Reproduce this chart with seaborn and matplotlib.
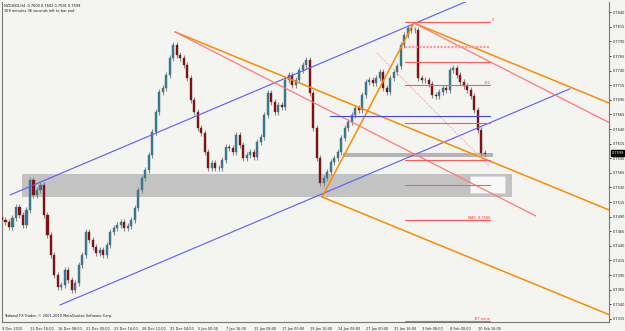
import numpy as np
import pandas as pd
import matplotlib
matplotlib.use("Agg")
import matplotlib.pyplot as plt
import seaborn as sns
from matplotlib.patches import Rectangle

sns.set_theme(style="white")
plt.rcParams["font.family"] = ["DejaVu Sans"]

# ---------------- data ----------------
# candle closes (one candle = 2 H4 bars), NZDUSD
closes = [
    0.74844, 0.74809, 0.74723, 0.74878, 0.75066, 0.74929, 0.74758, 0.75015, 0.75529, 0.75272,
    0.75357, 0.75443, 0.74929, 0.74587, 0.74244, 0.73902, 0.73697, 0.73731, 0.73988, 0.73817,
    0.73645, 0.73765, 0.74073, 0.74244, 0.74638, 0.74501, 0.74381, 0.74278, 0.74330, 0.74244,
    0.74416, 0.74638, 0.74707, 0.74758, 0.74809, 0.74707, 0.74741, 0.74844, 0.75049, 0.75357,
    0.75563, 0.75700, 0.75957, 0.76350, 0.76693, 0.77035, 0.77104, 0.77326, 0.77617, 0.77840,
    0.77669, 0.77617, 0.77498, 0.77275, 0.76898, 0.76693, 0.76419, 0.76333, 0.76008, 0.75734,
    0.75820, 0.75734, 0.75734, 0.75871, 0.76094, 0.76076, 0.76008, 0.76299, 0.76128, 0.75905,
    0.75957, 0.76008, 0.75923, 0.76179, 0.76265, 0.76641, 0.77018, 0.76864, 0.76693, 0.76813,
    0.76778, 0.77241, 0.77326, 0.77155, 0.77241, 0.77412, 0.77498, 0.77583, 0.77018, 0.76419,
    0.75905, 0.75477, 0.75563, 0.75666, 0.75837, 0.75905, 0.76008, 0.76248, 0.76419, 0.76521,
    0.76641, 0.76761, 0.76727, 0.76984, 0.77207, 0.77241, 0.77190, 0.77275, 0.77378, 0.77104,
    0.77035, 0.77275, 0.77378, 0.77480, 0.77840, 0.78011, 0.78131, 0.78097, 0.78097, 0.77275,
    0.77241, 0.77241, 0.77172, 0.76984, 0.76967, 0.77035, 0.77104, 0.77070, 0.77412, 0.77446,
    0.77326, 0.77207, 0.77138, 0.77070, 0.76967, 0.76727, 0.76385, 0.75991, 0.75974,
]
first_open = 0.7490
wick = 0.00045

time_labels = ["9 Dec 2010", "13 Dec 16:00", "16 Dec 08:00", "21 Dec 00:00", "23 Dec 16:00",
               "28 Dec 12:00", "31 Dec 04:00", "5 Jan 00:00", "7 Jan 16:00", "12 Jan 08:00",
               "17 Jan 00:00", "19 Jan 16:00", "24 Jan 08:00", "27 Jan 00:00", "31 Jan 16:00",
               "3 Feb 08:00", "8 Feb 00:00", "10 Feb 16:00"]
time_label_bars = [0, 16, 32, 48, 64, 80, 96, 112, 128, 144, 160, 176, 192, 208, 224, 240, 256, 272]

price_ticks = [0.7315, 0.7340, 0.7365, 0.7390, 0.7415, 0.7440, 0.7465, 0.7490, 0.7515, 0.7540,
               0.7565, 0.7590, 0.7615, 0.7640, 0.7665, 0.7690, 0.7715, 0.7740, 0.7765, 0.7790,
               0.7815, 0.7840]

# drawing objects (bar index, price)
blue_lines = [((33.1, 0.73388), (324.6, 0.77090)),
              ((4.6, 0.75272), (347.0, 0.79621))]
orange_lines = [((98.9, 0.78063), (347.0, 0.75015)),
                ((235.4, 0.78217), (347.0, 0.76846)),
                ((182.9, 0.75238), (347.0, 0.73222)),
                ((182.9, 0.75238), (235.4, 0.78217))]
pink_lines = [((98.9, 0.78063), (305.1, 0.74912)),
              ((235.4, 0.78217), (347.0, 0.76511))]
faint_line = ((214.3, 0.77703), (278.9, 0.75751))
blue_hline = (187.4, 279.0, 0.76624)
fib_prices = [0.78234, 0.77806, 0.77549, 0.77155, 0.76504, 0.75871, 0.75443, 0.74843, 0.73114]
fib_x = (230.3, 279.0)
zone_big = (11.4, 291.4, 0.75237, 0.75631)
zone_white = (267.4, 287.4, 0.75306, 0.75597)
zone_thin = (195.0, 280.6, 0.75923, 0.75991)

# ---------------- figure ----------------
W, H = 625, 331
fig = plt.figure(figsize=(W / 100, H / 100), dpi=100)
bg = "#f4f4f1"
fig.patch.set_facecolor(bg)
ax = fig.add_axes([2 / W, 1 - 322 / H, 607 / W, 320 / H])
ax.set_facecolor(bg)

xmin, xmax = 0.0, 346.9
ymin, ymax = 0.73097, 0.78576
ax.set_xlim(xmin, xmax)
ax.set_ylim(ymin, ymax)

# zones
x0, x1, p0, p1 = zone_big
ax.add_patch(Rectangle((x0, p0), x1 - x0, p1 - p0, facecolor="#c3c3c3", edgecolor="none", zorder=1))
x0, x1, p0, p1 = zone_white
ax.add_patch(Rectangle((x0, p0), x1 - x0, p1 - p0, facecolor="#f8f8f8", edgecolor="#d8d8d8", lw=0.6, zorder=1.2))
x0, x1, p0, p1 = zone_thin
ax.add_patch(Rectangle((x0, p0), x1 - x0, p1 - p0, facecolor="#b4b4b4", edgecolor="none", zorder=1))

# candles
df = pd.DataFrame({"close": closes})
df["open"] = [first_open] + closes[:-1]
df["idx"] = np.arange(len(df)) * 2
df["hi"] = df[["open", "close"]].max(axis=1) + wick
df["lo"] = df[["open", "close"]].min(axis=1) - wick
up = df["close"] >= df["open"]
ax.vlines(df["idx"], df["lo"], df["hi"], color="#8a8a8a", lw=0.8, zorder=3)
ax.bar(df["idx"][up], (df["close"] - df["open"])[up].clip(lower=0.00008), bottom=df["open"][up],
       width=1.15, color="#2b7d9c", edgecolor="#5a6a70", lw=0.3, zorder=4)
ax.bar(df["idx"][~up], (df["open"] - df["close"])[~up].clip(lower=0.00008), bottom=df["close"][~up],
       width=1.15, color="#8b0a0a", edgecolor="#6a3030", lw=0.3, zorder=4)


def seg(p, q, color, lw, ls="-", z=5):
    d = pd.DataFrame({"x": [p[0], q[0]], "y": [p[1], q[1]]})
    sns.lineplot(data=d, x="x", y="y", ax=ax, color=color, lw=lw, ls=ls, zorder=z,
                 estimator=None, sort=False)


for p, q in blue_lines:
    seg(p, q, "#5b5bff", 0.8)
for p, q in orange_lines:
    seg(p, q, "#ff8a00", 1.1)
for p, q in pink_lines:
    seg(p, q, "#ff7a7a", 0.9)
seg(faint_line[0], faint_line[1], "#f3bcbc", 0.8, ls=(0, (2, 1)))
seg((blue_hline[0], blue_hline[2]), (blue_hline[1], blue_hline[2]), "#4545ff", 0.8)
for i, fp in enumerate(fib_prices):
    if i == 1:
        seg((fib_x[0], fp), (fib_x[1], fp), "#ff9a9a", 1.6, ls=(0, (1, 0.6)))
    else:
        seg((fib_x[0], fp), (fib_x[1], fp), "#ff5a5a", 0.8)

fs = 2.5
ax.text(fib_x[1] + 1, fib_prices[0], "0", fontsize=fs, color="#ff3030", ha="left", va="bottom")
ax.text(fib_x[1], fib_prices[3], "100", fontsize=fs, color="#ff3030", ha="right", va="bottom")
ax.text(fib_x[1], fib_prices[7], "MAX  0.7580", fontsize=fs, color="#ff3030", ha="right", va="bottom")
ax.text(fib_x[1], fib_prices[8], "377.none", fontsize=fs, color="#ff3030", ha="right", va="bottom")

ax.set_xlabel("")
ax.set_ylabel("")

# axes styling
ax.yaxis.tick_right()
ax.set_yticks(price_ticks)
ax.set_yticklabels([f"{v:.4f}" for v in price_ticks])
ax.set_xticks(time_label_bars)
ax.set_xticklabels(time_labels)
for lbl in ax.get_xticklabels():
    lbl.set_ha("left")
ax.tick_params(axis="y", labelsize=fs, length=1.5, pad=1.2, colors="#222222", width=0.6)
ax.tick_params(axis="x", labelsize=fs, length=2, pad=1.5, colors="#222222", width=0.6)
for s in ax.spines.values():
    s.set_color("#777777")
    s.set_linewidth(0.8)
ax.spines["top"].set_visible(False)

# current price box
ax.text(1.004, (0.7599 - ymin) / (ymax - ymin), "0.7599", transform=ax.transAxes, fontsize=fs,
        color="white", va="center", ha="left",
        bbox=dict(boxstyle="square,pad=0.2", fc="black", ec="black"))

ax.text(0.004, 0.995, "NZDUSD,H4  0.7600 0.7602 0.7591 0.7599", transform=ax.transAxes,
        fontsize=fs, va="top", ha="left", color="#111111")
ax.text(0.004, 0.978, "159 minutes 36 seconds left to bar end", transform=ax.transAxes,
        fontsize=fs, va="top", ha="left", color="#111111")
ax.text(0.004, 0.012, "Tadawul FX Trader, \u00a9 2001-2010 MetaQuotes Software Corp.",
        transform=ax.transAxes, fontsize=fs, va="bottom", ha="left", color="#111111")

fig.savefig("out.png", dpi=100, facecolor=bg)
